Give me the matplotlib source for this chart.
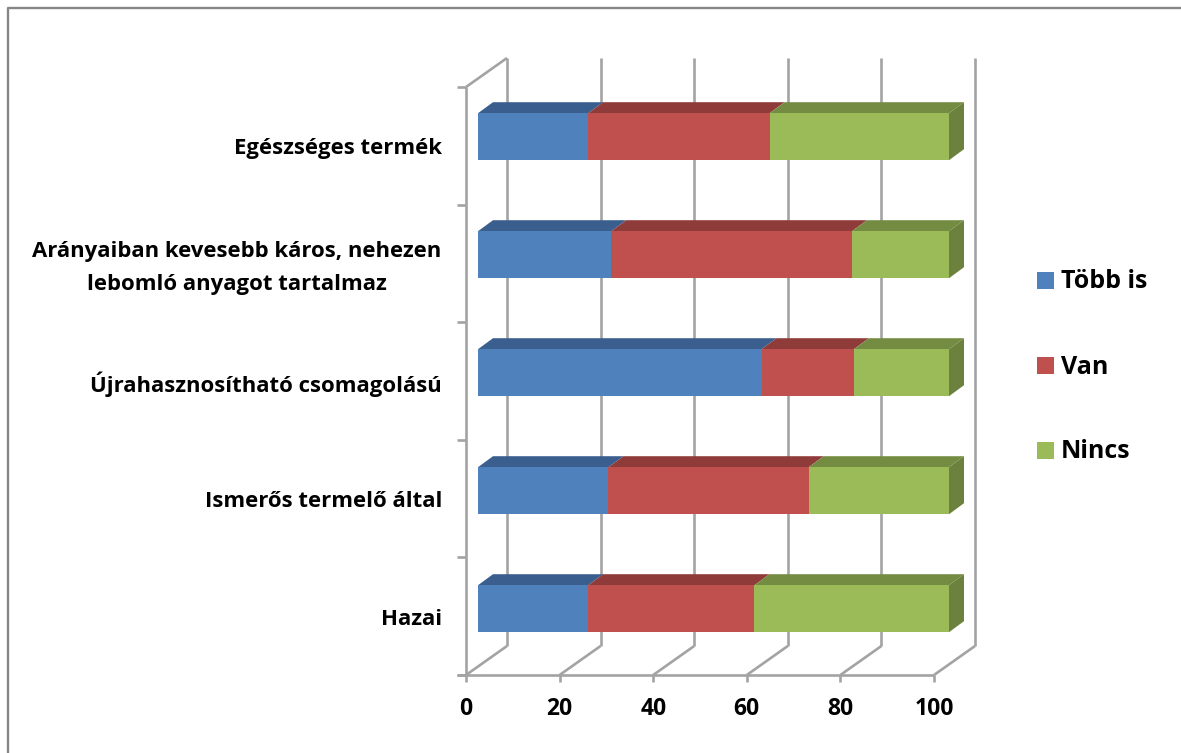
#!/usr/bin/env python3
# 3D-style stacked horizontal bars, pixel-matched to the 1181x753 reference
import matplotlib
matplotlib.use("Agg")
import matplotlib.pyplot as plt
import matplotlib.patches as mp
import numpy as np

W, H = 1181, 753
FONT = ["Open Sans", "DejaVu Sans"]
plt.rcParams["font.family"] = FONT

categories = ["Hazai", "Ismerős termelő által", "Újrahasznosítható csomagolású",
              "Arányaiban kevesebb káros, nehezen\nlebomló anyagot tartalmaz", "Egészséges termék"]
series_names = ["Több is", "Van", "Nincs"]
tobb_is = [23.4, 27.7, 60.2, 28.3, 23.4]
van = [35.3, 42.5, 19.6, 51.1, 38.5]
nincs = [41.3, 29.8, 20.2, 20.6, 38.1]
xticks = [0, 20, 40, 60, 80, 100]

FRONT = ["#4f81bd", "#c0504d", "#9bbb59"]
TOP = ["#3a5f8e", "#8f3b39", "#748c42"]
SIDE = ["#3a5f8e", "#8f3b39", "#6b813d"]
GRID = "#a3a3a3"
FRAME = "#868686"
LABEL_FS = 15.9

# plot box in pixels (front plane), y counted from the top of the image
X0, X1, Y0, Y1 = 466, 934, 675, 87
PX = (X1 - X0) / 100
PY = (Y0 - Y1) / 5
DEPTH_X, DEPTH_Y = 41 / PX, 29 / PY  # wall depth in data units
BAR_DX, BAR_DY = 15 / PX, 11 / PY    # bar depth
BAR_LEFT = 12 / PX
BAR_SCALE = 471 / 468
BAR_H = 47 / PY
BAR_LIFT = 7.5 / PY
BAR_STEP = 118 / PY  # bars sit slightly wider apart than the ticks

fig = plt.figure(figsize=(W / 100, H / 100), dpi=100, facecolor="white")
ax = fig.add_axes([X0 / W, 1 - Y0 / H, (X1 - X0) / W, (Y0 - Y1) / H])
ax.set_xlim(0, 100)
ax.set_ylim(0, 5)
ax.axis("off")

def line(xs, ys, z=1, color=GRID, lw=1.9):
    ax.plot(xs, ys, color=color, lw=lw, zorder=z, clip_on=False, solid_capstyle="butt", solid_joinstyle="miter")

def label(text, x, y, dx, dy, ha="right", fs=LABEL_FS):
    ax.annotate(text, (x, y), xytext=(dx, dy), textcoords="offset pixels", ha=ha, va="center",
                fontsize=fs, fontweight="bold", annotation_clip=False)

# walls and floor
for t in xticks:
    line([t + DEPTH_X, t + DEPTH_X], [DEPTH_Y, 5 + DEPTH_Y])
    line([t, t + DEPTH_X], [0, DEPTH_Y])
    line([t, t], [0, -7 / PY])
line([0, 0, -9 / PX], [5, 0, 0], z=2)
line([0, 100], [0, 0], z=2)
line([0, DEPTH_X], [5, 5 + DEPTH_Y])
for c in range(6):
    line([-9 / PX, 0], [c, c], z=2)

# bars
pos = np.arange(len(categories)) * BAR_STEP + 0.5 + BAR_LIFT
left = np.full(len(categories), BAR_LEFT)
for i, vals in enumerate([tobb_is, van, nincs]):
    w = np.array(vals) * BAR_SCALE
    for k, y in enumerate(pos):
        l, r = left[k], left[k] + w[k]
        yt = y + BAR_H / 2
        ax.add_patch(mp.Polygon([(l, yt), (r, yt), (r + BAR_DX, yt + BAR_DY), (l + BAR_DX, yt + BAR_DY)],
                                fc=TOP[i], ec="none", zorder=3, clip_on=False))
    ax.barh(pos, w, BAR_H, left=left, color=FRONT[i], edgecolor="none", zorder=4, clip_on=False)
    left = left + w
for k, y in enumerate(pos):
    r = left[k]
    yt, yb = y + BAR_H / 2, y - BAR_H / 2
    ax.add_patch(mp.Polygon([(r, yb), (r, yt), (r + BAR_DX, yt + BAR_DY), (r + BAR_DX, yb + BAR_DY)],
                            fc=SIDE[2], ec="none", zorder=3, clip_on=False))

# labels, offset in pixels from the front plane
for k, name in enumerate(categories):
    if "\n" in name:
        a, b = name.split("\n")
        label(a, 0, k + 0.5, -25, 12)
        label(b, 0, k + 0.5, -79, -21)
    else:
        label(name, 0, k + 0.5, -24, -3)
for t in xticks:
    label(str(t), t, 0, 0, -34, ha="center", fs=16.5)

# legend + frame, figure coordinates
for i, (name, y) in enumerate(zip(series_names, [280.5, 365.5, 450.5])):
    fig.patches.append(mp.Rectangle((1037 / W, 1 - (y + 8.5) / H), 17 / W, 17 / H, transform=fig.transFigure,
                                    fc=FRONT[i], ec="none"))
    fig.text(1061 / W, 1 - (y + 1.5) / H, name, ha="left", va="center", fontsize=18, fontweight="bold")
fig.add_artist(plt.Line2D([7.5 / W, 7.5 / W, 1], [0, 1 - 7.5 / H, 1 - 7.5 / H], color=FRAME, lw=1.7))

fig.savefig("out.png", dpi=100, facecolor="white")
